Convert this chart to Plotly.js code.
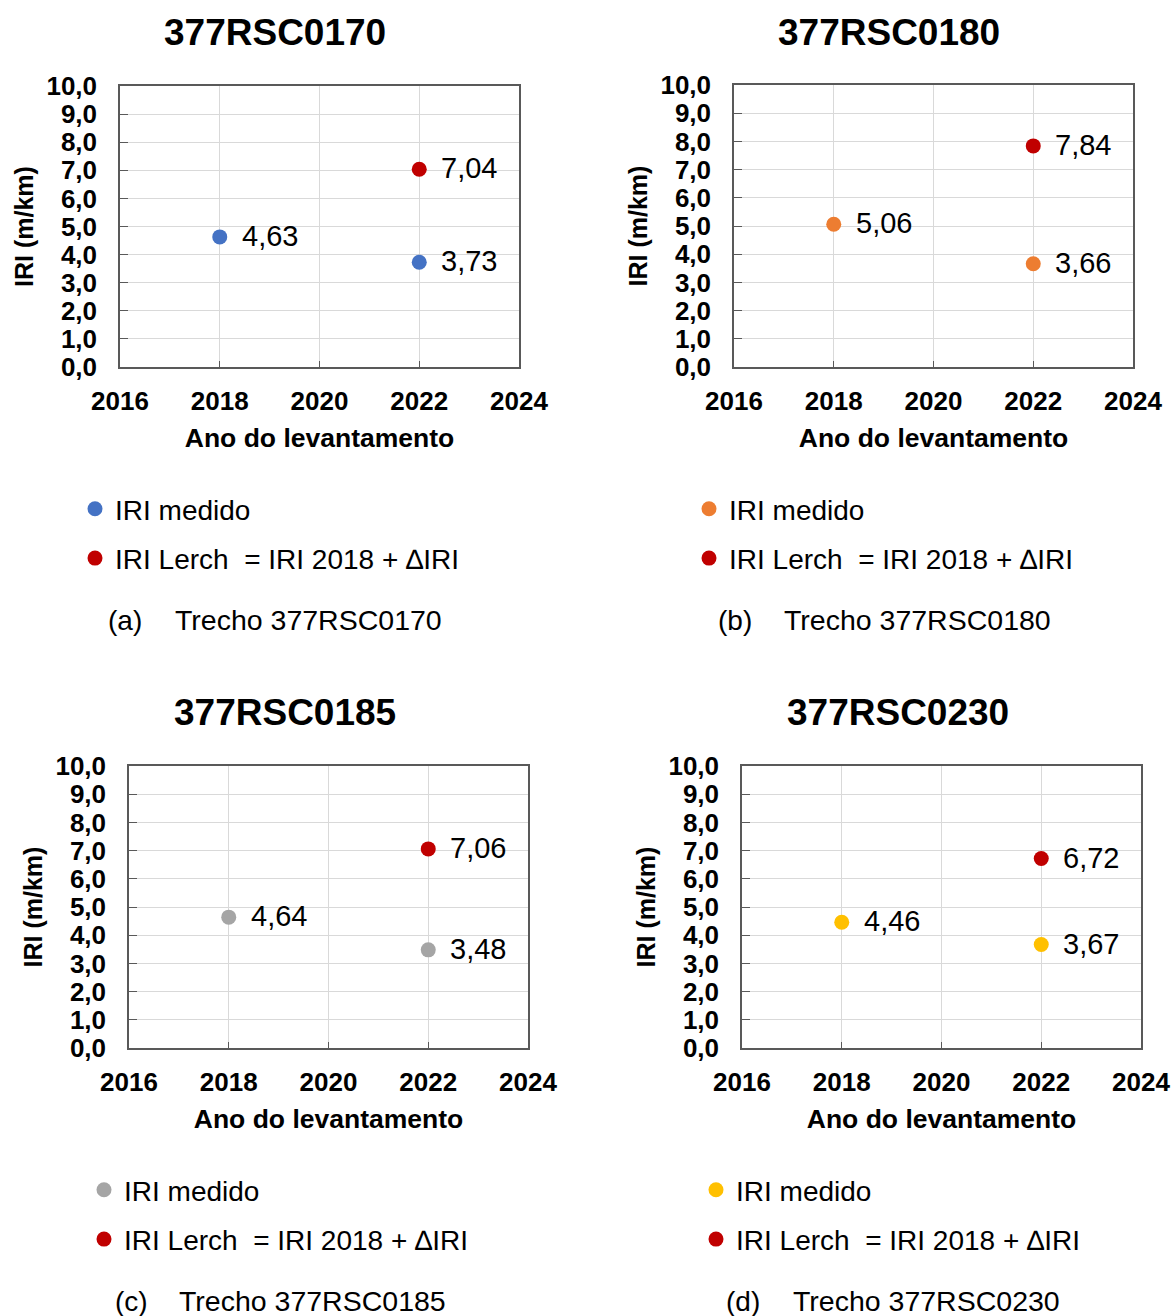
<!DOCTYPE html>
<html><head><meta charset="utf-8">
<script src="https://cdn.plot.ly/plotly-3.0.1.min.js"></script>
<style>body{margin:0;background:#fff}</style>
</head><body><div id="chart" style="width:1173px;height:1316px"></div>
<script>
// ---- data ----
const panelIds = ['377RSC0170', '377RSC0180', '377RSC0185', '377RSC0230'];
const panelLetters = ['(a)', '(b)', '(c)', '(d)'];
const medidoYears = [2018, 2022];
const lerchYears = [2022];
const medido_0170 = [4.63, 3.73];
const lerch_0170 = [7.04];
const medido_0180 = [5.06, 3.66];
const lerch_0180 = [7.84];
const medido_0185 = [4.64, 3.48];
const lerch_0185 = [7.06];
const medido_0230 = [4.46, 3.67];
const lerch_0230 = [6.72];
const medidoSeries = [medido_0170, medido_0180, medido_0185, medido_0230];
const lerchSeries = [lerch_0170, lerch_0180, lerch_0185, lerch_0230];
const legendMedido = 'IRI medido';
const legendLerch = 'IRI Lerch&nbsp;&nbsp;= IRI 2018 + ∆IRI';
const xTitle = 'Ano do levantamento';
const yTitle = 'IRI (m/km)';
const captionPrefix = 'Trecho ';

// ---- styles ----
const medidoColors = ['#4472C4', '#ED7D31', '#A5A5A5', '#FFC000'];
const lerchColor = '#C00000';
const FONT = 'Liberation Sans, Arial, sans-serif';
const W = 1173, H = 1316;
const fx = x => x / W;
const fy = y => 1 - y / H;

// panel geometry in pixels
const geo = [
  {l: 120, r: 519, t: 86, b: 367, tx: 275, ty: 32, lgx: 97, lgy: 510, cx1: 108, cx2: 173, cy: 620},
  {l: 734, r: 1133, t: 85, b: 367, tx: 889, ty: 32, lgx: 711, lgy: 510, cx1: 718, cx2: 782, cy: 620},
  {l: 129, r: 528, t: 766, b: 1048, tx: 285, ty: 712, lgx: 106, lgy: 1191, cx1: 115, cx2: 177, cy: 1301},
  {l: 742, r: 1141, t: 766, b: 1048, tx: 898, ty: 712, lgx: 718, lgy: 1191, cx1: 726, cx2: 791, cy: 1301}
];

const fmt = v => v.toFixed(2).replace('.', ',');

const traces = [];
const annotations = [];
const layout = {
  width: W, height: H,
  margin: {l: 0, r: 0, t: 0, b: 0},
  paper_bgcolor: '#fff', plot_bgcolor: '#fff',
  separators: ',.',
  font: {family: FONT, color: '#000'},
  showlegend: true,
  annotations: annotations
};

geo.forEach((g, i) => {
  const n = i === 0 ? '' : String(i + 1);
  const xa = 'x' + n, ya = 'y' + n;
  const lg = 'legend' + n;
  layout['xaxis' + n] = {
    domain: [fx(g.l), fx(g.r)], anchor: ya,
    range: [2016, 2024], dtick: 2, tick0: 2016,
    showgrid: true, gridcolor: '#d9d9d9', gridwidth: 1.3,
    showline: true, mirror: true, linecolor: '#595959', linewidth: 1.5,
    ticks: 'inside', ticklen: 6, tickcolor: '#595959', ticklabelstandoff: 10,
    tickfont: {size: 26, family: FONT, color: '#000', weight: 'bold'},
    zeroline: false, fixedrange: true,
    title: {text: '<b>' + xTitle + '</b>', font: {size: 26.5, family: FONT, color: '#000'}, standoff: 13}
  };
  layout['yaxis' + n] = {
    domain: [fy(g.b), fy(g.t)], anchor: xa,
    range: [0, 10], dtick: 1, tick0: 0, tickformat: '.1f',
    showgrid: true, gridcolor: '#d9d9d9', gridwidth: 1.3,
    showline: true, mirror: true, linecolor: '#595959', linewidth: 1.5,
    ticks: 'inside', ticklen: 8, tickcolor: '#595959', ticklabelstandoff: 16,
    tickfont: {size: 26, family: FONT, color: '#000', weight: 'bold'},
    zeroline: false, fixedrange: true,
    title: {text: '<b>' + yTitle + '</b>', font: {size: 25, family: FONT, color: '#000'}, standoff: 6}
  };
  layout[lg] = {
    x: fx(g.lgx - 22), y: fy(g.lgy - 26), xanchor: 'left', yanchor: 'top',
    bgcolor: 'rgba(0,0,0,0)', borderwidth: 0,
    font: {size: 28, family: FONT, color: '#000'},
    traceorder: 'grouped', tracegroupgap: 10, itemclick: false, itemdoubleclick: false
  };
  traces.push({
    type: 'scatter', mode: 'markers', x: medidoYears, y: medidoSeries[i],
    xaxis: xa, yaxis: ya, name: legendMedido, legend: lg, legendgroup: 'm' + i,
    marker: {color: medidoColors[i], size: 15}, hoverinfo: 'x+y'
  });
  traces.push({
    type: 'scatter', mode: 'markers', x: lerchYears, y: lerchSeries[i],
    xaxis: xa, yaxis: ya, name: legendLerch, legend: lg, legendgroup: 'l' + i,
    marker: {color: lerchColor, size: 15}, hoverinfo: 'x+y'
  });
  // data labels
  medidoYears.forEach((yr, k) => {
    annotations.push({xref: xa, yref: ya, x: yr, y: medidoSeries[i][k], text: fmt(medidoSeries[i][k]),
      xanchor: 'left', yanchor: 'middle', xshift: 20, yshift: 1, showarrow: false,
      font: {size: 29, family: FONT, color: '#000'}});
  });
  lerchYears.forEach((yr, k) => {
    annotations.push({xref: xa, yref: ya, x: yr, y: lerchSeries[i][k], text: fmt(lerchSeries[i][k]),
      xanchor: 'left', yanchor: 'middle', xshift: 20, yshift: 1, showarrow: false,
      font: {size: 29, family: FONT, color: '#000'}});
  });
  // panel title
  annotations.push({xref: 'paper', yref: 'paper', x: fx(g.tx), y: fy(g.ty), text: '<b>' + panelIds[i] + '</b>',
    xanchor: 'center', yanchor: 'middle', showarrow: false, font: {size: 37, family: FONT, color: '#000'}});
  // caption
  annotations.push({xref: 'paper', yref: 'paper', x: fx(g.cx1 - 2), y: fy(g.cy), text: panelLetters[i],
    xanchor: 'left', yanchor: 'middle', showarrow: false, font: {size: 28, family: FONT, color: '#000'}});
  annotations.push({xref: 'paper', yref: 'paper', x: fx(g.cx2), y: fy(g.cy), text: captionPrefix + panelIds[i],
    xanchor: 'left', yanchor: 'middle', showarrow: false, font: {size: 28.5, family: FONT, color: '#000'}});
});

Plotly.newPlot('chart', traces, layout, {displayModeBar: false, staticPlot: false});
</script>
</body></html>
